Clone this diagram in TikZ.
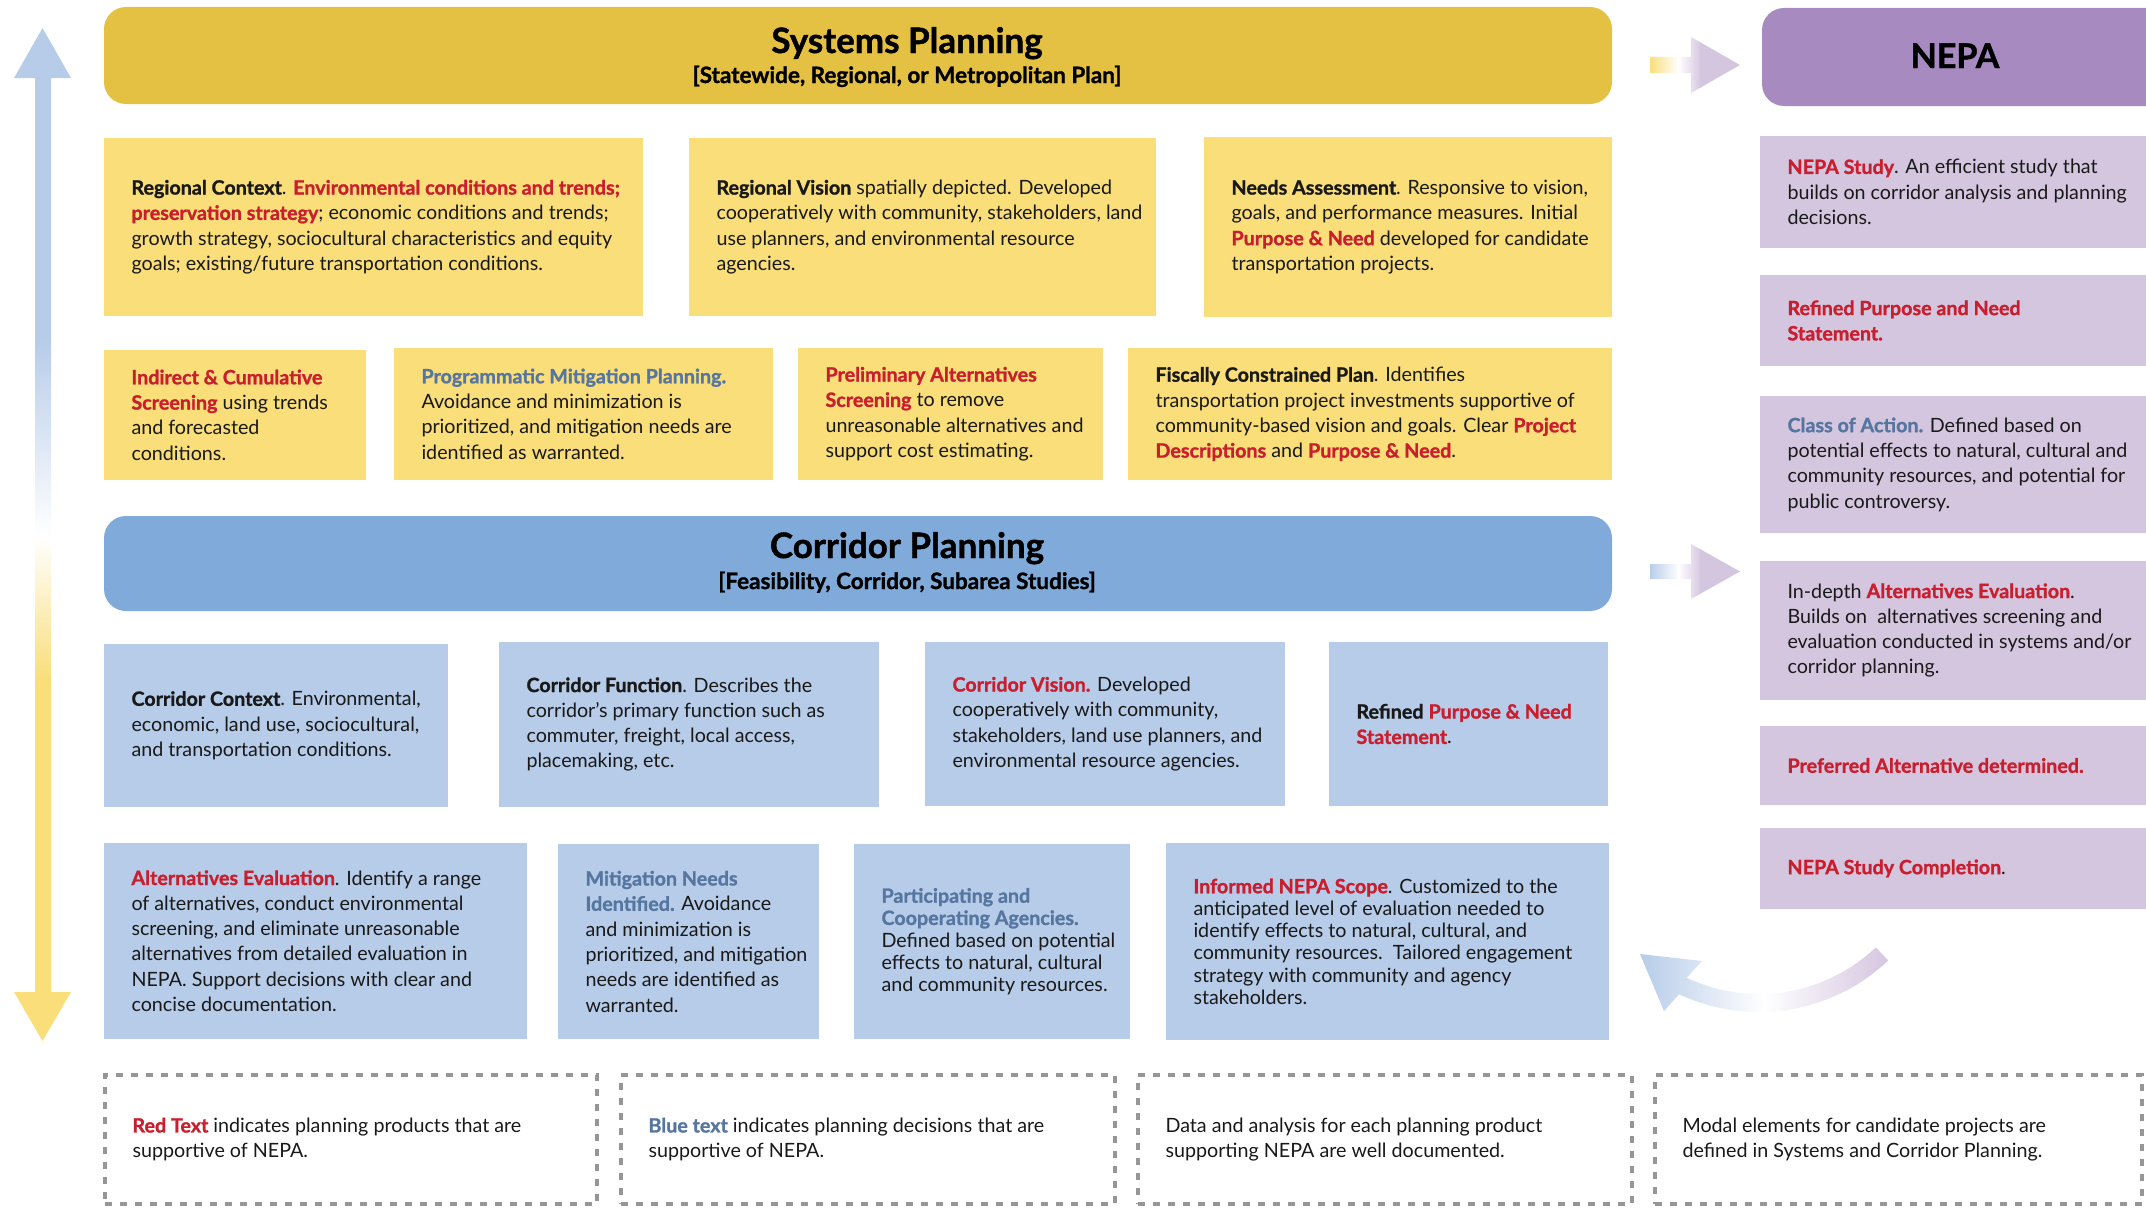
\documentclass[tikz,border=0pt]{standalone}
\usepackage{fontspec}
\setmainfont{Lato}[BoldFeatures={FakeBold=1.2}]
\usetikzlibrary{calc}
\definecolor{sysB}{RGB}{228,192,67}
\definecolor{yBox}{RGB}{249,222,122}
\definecolor{corB}{RGB}{127,170,217}
\definecolor{bBox}{RGB}{183,204,233}
\definecolor{nepB}{RGB}{166,138,192}
\definecolor{pBox}{RGB}{213,198,224}
\definecolor{redT}{RGB}{200,30,45}
\definecolor{blueT}{RGB}{86,118,160}
\definecolor{txtK}{RGB}{25,25,25}
\definecolor{dashG}{RGB}{150,150,150}
\newcommand\rdb[1]{{\color{redT}\bfseries #1}}
\newcommand\blb[1]{{\color{blueT}\bfseries #1}}
\newcommand\kb[1]{{\bfseries #1}}
\tikzset{
  boxbase/.style={rectangle, inner sep=0pt, outer sep=0pt},
  yellowbox/.style={boxbase, fill=yBox},
  bluebox/.style={boxbase, fill=bBox},
  purplebox/.style={boxbase, fill=pBox},
  legendbox/.style={boxbase, draw=dashG, line width=3.5pt, dash pattern=on 7pt off 8pt},
  banner/.style={boxbase, rounded corners=22pt},
  txt/.style={align=left, inner sep=0pt, outer sep=0pt, text=txtK, font=\fontsize{19.7}{25.3}\selectfont},
  tighttxt/.style={txt, font=\fontsize{19.7}{22.2}\selectfont},
  bigtitle/.style={anchor=base, inner sep=0pt, text=black, font=\fontsize{35}{38}\selectfont\bfseries},
  subtitle/.style={anchor=base, inner sep=0pt, text=black, font=\fontsize{22.5}{26}\selectfont\bfseries},
}
% #1 box style, #2 name, #3 x1, #4 y1, #5 x2, #6 y2, #7 text style, #8 text
\newcommand\mkbox[8]{%
  \node[#1, anchor=north west, minimum width={(#5-#3)*1pt}, minimum height={(#6-#4)*1pt}] (#2) at (#3,-#4) {};
  \node[#7, anchor=west] (#2-t) at ([xshift=27.5pt]#2.west) {#8};
}
\begin{document}
\begin{tikzpicture}[x=1pt,y=1pt]
\useasboundingbox (0,0) rectangle (2146,-1207);

% ---------- vertical gradient arrow ----------
\begin{scope}
  \clip (35,-78) -- (14,-78) -- (42.5,-28) -- (71,-78) -- (51,-78) -- (51,-992) -- (71,-992) -- (42.5,-1041) -- (14,-992) -- (35,-992) -- cycle;
  \fill[bBox] (10,-20) rectangle (75,-341);
  \shade[top color=bBox, bottom color=white] (10,-340) rectangle (75,-537);
  \shade[top color=white, bottom color=yBox] (10,-536.5) rectangle (75,-680);
  \fill[yBox] (10,-679) rectangle (75,-1050);
\end{scope}

% ---------- banners ----------
\node[banner, fill=sysB, anchor=north west, minimum width=1508pt, minimum height=97pt] (sys) at (104,-7) {};
\node[bigtitle] (sys-t) at (907,-53) {Systems Planning};
\node[subtitle] (sys-s) at (907,-83) {[Statewide, Regional, or Metropolitan Plan]};

\node[banner, fill=corB, anchor=north west, minimum width=1508pt, minimum height=95pt] (cor) at (104,-516) {};
\node[bigtitle] (cor-t) at (907,-558) {Corridor Planning};
\node[subtitle] (cor-s) at (907,-589) {[Feasibility, Corridor, Subarea Studies]};

\node[banner, fill=nepB, anchor=north west, minimum width=410pt, minimum height=98pt] (nepa) at (1762,-8) {};
\node[bigtitle, font=\fontsize{34}{36}\selectfont\bfseries] (nepa-t) at (1955,-68) {NEPA};

% ---------- horizontal arrows ----------
\begin{scope}
  \clip (1650,-57) -- (1691,-57) -- (1691,-37) -- (1740,-65) -- (1691,-93) -- (1691,-73) -- (1650,-73) -- cycle;
  \shade[left color=yBox, right color=white] (1649,-30) rectangle (1679,-100);
  \shade[left color=white, right color=pBox] (1678,-30) rectangle (1701,-100);
  \fill[pBox] (1700,-30) rectangle (1745,-100);
\end{scope}
\begin{scope}
  \clip (1650,-564) -- (1691,-564) -- (1691,-544) -- (1740,-571.5) -- (1691,-599) -- (1691,-579) -- (1650,-579) -- cycle;
  \shade[left color=bBox, right color=white] (1649,-535) rectangle (1679,-605);
  \shade[left color=white, right color=pBox] (1678,-535) rectangle (1701,-605);
  \fill[pBox] (1700,-535) rectangle (1745,-605);
\end{scope}

% ---------- systems planning boxes ----------
\mkbox{yellowbox}{rc}{104}{138}{643}{316}{txt}{\kb{Regional Context}. \rdb{Environmental conditions and trends;}\\
\rdb{preservation strategy}; economic conditions and trends;\\
growth strategy, sociocultural characteristics and equity\\
goals; existing/future transportation conditions.}

\mkbox{yellowbox}{rv}{689}{138}{1156}{316}{txt}{\kb{Regional Vision} spatially depicted. Developed\\
cooperatively with community, stakeholders, land\\
use planners, and environmental resource\\
agencies.}

\mkbox{yellowbox}{na}{1204}{137}{1612}{317}{txt}{\kb{Needs Assessment}. Responsive to vision,\\
goals, and performance measures. Initial\\
\rdb{Purpose \& Need} developed for candidate\\
transportation projects.}

\mkbox{yellowbox}{ic}{104}{350}{366}{480}{txt}{\rdb{Indirect \& Cumulative}\\
\rdb{Screening} using trends\\
and forecasted\\
conditions.}

\mkbox{yellowbox}{pm}{394}{348}{773}{480}{txt}{\blb{Programmatic Mitigation Planning.}\\
Avoidance and minimization is\\
prioritized, and mitigation needs are\\
identified as warranted.}

\mkbox{yellowbox}{pa}{798}{348}{1103}{480}{txt}{\rdb{Preliminary Alternatives}\\
\rdb{Screening} to remove\\
unreasonable alternatives and\\
support cost estimating.}

\mkbox{yellowbox}{fc}{1128}{348}{1612}{480}{txt}{\kb{Fiscally Constrained Plan}. Identifies\\
transportation project investments supportive of\\
community-based vision and goals. Clear \rdb{Project}\\
\rdb{Descriptions} and \rdb{Purpose \& Need}.}

% ---------- corridor planning boxes ----------
\mkbox{bluebox}{cc}{104}{644}{448}{807}{txt}{\kb{Corridor Context}. Environmental,\\
economic, land use, sociocultural,\\
and transportation conditions.}

\mkbox{bluebox}{cf}{499}{642}{879}{807}{txt}{\kb{Corridor Function}. Describes the\\
corridor’s primary function such as\\
commuter, freight, local access,\\
placemaking, etc.}

\mkbox{bluebox}{cv}{925}{642}{1285}{806}{txt}{\rdb{Corridor Vision.} Developed\\
cooperatively with community,\\
stakeholders, land use planners, and\\
environmental resource agencies.}

\mkbox{bluebox}{rp}{1329}{642}{1608}{806}{txt}{\kb{Refined} \rdb{Purpose \& Need}\\
\rdb{Statement}.}

\mkbox{bluebox}{ae}{104}{843}{527}{1039}{txt}{\rdb{Alternatives Evaluation}. Identify a range\\
of alternatives, conduct environmental\\
screening, and eliminate unreasonable\\
alternatives from detailed evaluation in\\
NEPA. Support decisions with clear and\\
concise documentation.}

\mkbox{bluebox}{mn}{558}{844}{819}{1039}{txt}{\blb{Mitigation Needs}\\
\blb{Identified.} Avoidance\\
and minimization is\\
prioritized, and mitigation\\
needs are identified as\\
warranted.}

\mkbox{bluebox}{pc}{854}{844}{1130}{1039}{tighttxt}{\blb{Participating and}\\
\blb{Cooperating Agencies.}\\
Defined based on potential\\
effects to natural, cultural\\
and community resources.}

\mkbox{bluebox}{ns}{1166}{843}{1609}{1040}{tighttxt}{\rdb{Informed NEPA Scope}. Customized to the\\
anticipated level of evaluation needed to\\
identify effects to natural, cultural, and\\
community resources.\ \ Tailored engagement\\
strategy with community and agency\\
stakeholders.}

% ---------- NEPA boxes ----------
\mkbox{purplebox}{n1}{1760}{136}{2146}{248}{txt}{\rdb{NEPA Study}. An efficient study that\\
builds on corridor analysis and planning\\
decisions.}

\mkbox{purplebox}{n2}{1760}{275}{2146}{366}{txt}{\rdb{Refined Purpose and Need}\\
\rdb{Statement.}}

\mkbox{purplebox}{n3}{1760}{396}{2146}{533}{txt}{\blb{Class of Action.} Defined based on\\
potential effects to natural, cultural and\\
community resources, and potential for\\
public controversy.}

\mkbox{purplebox}{n4}{1760}{561}{2146}{700}{txt}{In-depth \rdb{Alternatives Evaluation}.\\
Builds on\ \ alternatives screening and\\
evaluation conducted in systems and/or\\
corridor planning.}

\mkbox{purplebox}{n5}{1760}{726}{2146}{805}{txt}{\rdb{Preferred Alternative determined.}}

\mkbox{purplebox}{n6}{1760}{828}{2146}{909}{txt}{\rdb{NEPA Study Completion}.}

% ---------- curved return arrow ----------
\shade[left color=bBox, right color=pBox, middle color=white]
  (1888.2,-960.5) arc[start angle=-46.5, end angle=-115.2, radius=187.7]
  -- (1664,-1011) -- (1640,-954) -- (1702,-961) -- (1686.7,-977.8)
  arc[start angle=-115.2, end angle=-46.5, radius=169.7] -- cycle;

% ---------- legend ----------
\mkbox{legendbox}{l1}{105}{1075}{597}{1204}{txt}{\rdb{Red Text} indicates planning products that are\\
supportive of NEPA.}
\mkbox{legendbox}{l2}{621}{1075}{1115}{1204}{txt}{\blb{Blue text} indicates planning decisions that are\\
supportive of NEPA.}
\mkbox{legendbox}{l3}{1138}{1075}{1632}{1204}{txt}{Data and analysis for each planning product\\
supporting NEPA are well documented.}
\mkbox{legendbox}{l4}{1655}{1075}{2142}{1204}{txt}{Modal elements for candidate projects are\\
defined in Systems and Corridor Planning.}
\end{tikzpicture}
\end{document}
